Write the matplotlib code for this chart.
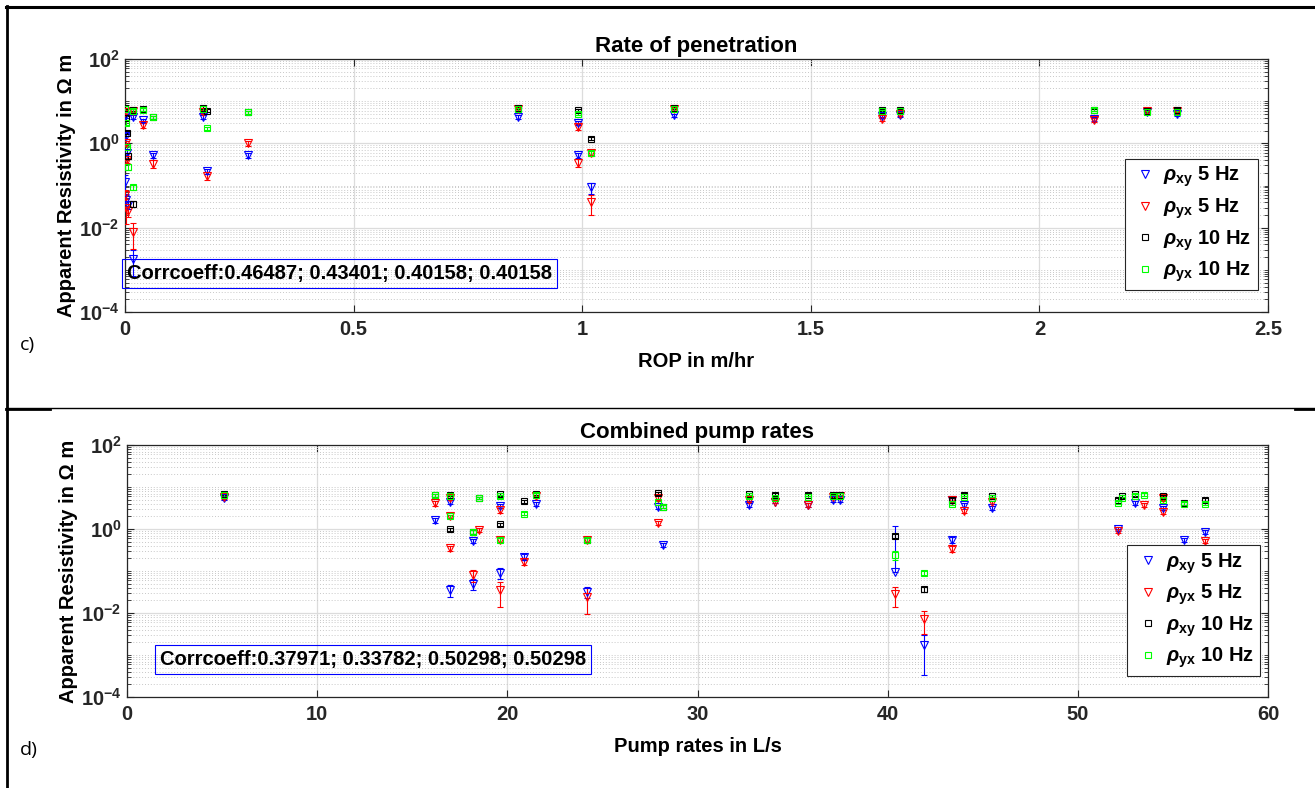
import matplotlib
matplotlib.use('Agg')
import matplotlib.pyplot as plt
import numpy as np
from matplotlib.lines import Line2D
from matplotlib.ticker import FixedLocator, FuncFormatter, NullFormatter

plt.rcParams['font.family'] = ['Liberation Sans', 'DejaVu Sans']
plt.rcParams['font.weight'] = 'bold'
plt.rcParams['mathtext.fontset'] = 'custom'
plt.rcParams['mathtext.rm'] = 'Liberation Sans:bold'
plt.rcParams['mathtext.it'] = 'Liberation Sans:italic'
plt.rcParams['mathtext.bf'] = 'Liberation Sans:bold'

# ---------------- data: panel c) rate of penetration ----------------
rop_xy5_x = [0.0, 0.002, 0.004, 0.0, 0.003, 0.006, 0.017, 0.017, 0.039, 0.061, 0.17, 0.18, 0.27,
             0.86, 0.99, 0.99, 1.02, 1.2, 1.655, 1.695, 2.12, 2.236, 2.30]
rop_xy5_y = [4.5, 1.5, 0.6, 0.12, 0.045, 0.035, 4.2, 0.0018, 3.5, 0.52, 4.2, 0.22, 0.52,
             4.2, 3.0, 0.52, 0.09, 4.6, 4.5, 4.8, 3.8, 5.5, 5.0]
rop_xy5_e = [0.1, 0.15, 0.15, 0.5, 0.4, 0.2, 0.1, 0.6, 0.1, 0.15, 0.1, 0.15, 0.15,
             0.1, 0.1, 0.15, 0.3, 0.1, 0.1, 0.1, 0.1, 0.1, 0.1]

rop_yx5_x = [0.0, 0.002, 0.004, 0.0, 0.003, 0.006, 0.017, 0.017, 0.039, 0.061, 0.17, 0.18, 0.27,
             0.86, 0.99, 0.99, 1.02, 1.02, 1.2, 1.655, 1.695, 2.12, 2.236, 2.30]
rop_yx5_y = [5.5, 1.0, 0.4, 0.06, 0.03, 0.025, 6.0, 0.008, 2.7, 0.33, 5.6, 0.17, 1.0,
             6.5, 2.5, 0.35, 0.6, 0.04, 6.5, 3.8, 5.0, 3.6, 6.0, 6.0]
rop_yx5_e = [0.1, 0.15, 0.15, 0.3, 0.6, 0.3, 0.1, 0.6, 0.15, 0.2, 0.1, 0.2, 0.15,
             0.1, 0.15, 0.2, 0.15, 0.5, 0.1, 0.1, 0.1, 0.1, 0.1, 0.1]

rop_xy10_x = [0.0, 0.002, 0.004, 0.006, 0.017, 0.017, 0.039, 0.061, 0.17, 0.18, 0.27,
              0.86, 0.99, 1.02, 1.2, 1.655, 1.695, 2.12, 2.236, 2.30]
rop_xy10_y = [7.0, 4.0, 1.8, 0.5, 6.2, 0.037, 6.5, 4.2, 7.0, 6.0, 5.5,
              7.0, 6.2, 1.3, 7.0, 6.2, 6.2, 6.2, 6.0, 6.3]
rop_xy10_e = [0.08, 0.1, 0.1, 0.15, 0.08, 0.15, 0.08, 0.08, 0.08, 0.08, 0.08,
              0.08, 0.08, 0.1, 0.08, 0.08, 0.08, 0.08, 0.08, 0.08]

rop_yx10_x = [0.0, 0.002, 0.004, 0.006, 0.017, 0.017, 0.039, 0.061, 0.17, 0.18, 0.27,
              0.86, 0.99, 1.02, 1.2, 1.655, 1.695, 2.12, 2.236, 2.30]
rop_yx10_y = [6.5, 3.0, 0.8, 0.28, 6.0, 0.09, 6.3, 4.2, 6.5, 2.3, 5.5,
              6.5, 5.0, 0.6, 6.5, 5.8, 5.8, 6.3, 5.5, 5.5]
rop_yx10_e = [0.08, 0.1, 0.1, 0.15, 0.08, 0.15, 0.08, 0.08, 0.08, 0.08, 0.08,
              0.08, 0.08, 0.1, 0.08, 0.08, 0.08, 0.08, 0.08, 0.08]

# ---------------- data: panel d) combined pump rates ----------------
pump_xy5_x = [5.1, 16.2, 17.0, 17.0, 18.2, 18.2, 19.6, 19.6, 20.9, 21.5, 24.2, 27.9, 28.2,
              32.7, 34.1, 35.8, 37.1, 37.5, 40.4, 41.9, 43.4, 43.4, 44.0, 45.5, 52.1, 53.0,
              54.5, 55.6, 56.7]
pump_xy5_y = [5.5, 1.6, 4.4, 0.035, 0.52, 0.05, 3.5, 0.09, 0.22, 4.0, 0.032, 3.4, 0.42,
              3.7, 4.5, 3.8, 5.0, 5.0, 0.095, 0.0017, 4.9, 0.55, 3.7, 3.2, 1.0, 4.2,
              3.2, 0.55, 0.85]
pump_xy5_e = [0.1, 0.12, 0.1, 0.3, 0.12, 0.3, 0.1, 0.3, 0.15, 0.1, 0.3, 0.1, 0.1,
              0.1, 0.1, 0.1, 0.1, 0.1, 11.6, 0.8, 0.1, 0.15, 0.1, 0.12, 0.12, 0.1,
              0.12, 0.1, 0.12]

pump_yx5_x = [5.1, 16.2, 17.0, 17.0, 17.0, 18.2, 18.5, 19.6, 19.6, 19.6, 20.9, 21.5, 24.2,
              24.2, 27.9, 27.9, 32.7, 34.1, 35.8, 37.1, 37.5, 40.4, 41.9, 43.4, 43.4, 44.0,
              45.5, 52.1, 53.5, 54.5, 54.5, 56.7]
pump_yx5_y = [5.8, 4.1, 5.5, 2.0, 0.35, 0.08, 0.95, 2.8, 0.55, 0.035, 0.165, 6.0, 0.55,
              0.024, 5.5, 1.4, 4.8, 4.5, 3.8, 5.8, 6.0, 0.028, 0.0072, 4.9, 0.34, 2.7,
              4.3, 0.9, 3.8, 5.5, 2.6, 0.52]
pump_yx5_e = [0.1, 0.12, 0.1, 0.1, 0.15, 0.3, 0.1, 0.12, 0.12, 0.6, 0.15, 0.1, 0.1,
              0.6, 0.1, 0.12, 0.1, 0.1, 0.1, 0.1, 0.1, 0.5, 0.55, 0.1, 0.15, 0.12,
              0.1, 0.12, 0.1, 0.1, 0.12, 0.1]

pump_xy10_x = [5.1, 16.2, 17.0, 17.0, 18.2, 18.5, 19.6, 19.6, 20.9, 21.5, 24.2, 27.9, 28.2,
               32.7, 34.1, 35.8, 37.1, 37.5, 40.4, 41.9, 43.4, 44.0, 45.5, 52.1, 52.3, 53.0,
               54.5, 55.6, 56.7]
pump_xy10_y = [7.0, 6.4, 6.6, 1.0, 0.85, 5.5, 6.8, 1.3, 4.6, 7.0, 0.55, 7.2, 3.4,
               6.8, 6.5, 6.5, 6.3, 6.5, 0.68, 0.037, 5.0, 6.5, 6.0, 5.0, 6.0, 6.8,
               6.0, 4.1, 5.0]
pump_xy10_e = [0.08, 0.08, 0.08, 0.08, 0.1, 0.08, 0.08, 0.08, 0.08, 0.08, 0.1, 0.08, 0.08,
               0.08, 0.08, 0.08, 0.08, 0.08, 0.1, 0.15, 0.08, 0.08, 0.08, 0.08, 0.08, 0.08,
               0.08, 0.08, 0.08]

pump_yx10_x = [5.1, 16.2, 17.0, 17.0, 18.2, 18.5, 19.6, 19.6, 20.9, 21.5, 24.2, 27.9, 28.2,
               32.7, 34.1, 35.8, 37.1, 37.5, 40.4, 41.9, 43.4, 44.0, 45.5, 52.1, 52.3, 53.0,
               53.5, 54.5, 55.6, 56.7]
pump_yx10_y = [6.4, 6.4, 6.0, 2.0, 0.85, 5.5, 6.0, 0.55, 2.3, 6.5, 0.55, 4.4, 3.4,
               6.0, 5.5, 5.8, 6.0, 6.0, 0.24, 0.09, 4.0, 5.8, 5.5, 4.2, 5.5, 6.2,
               6.5, 5.0, 4.0, 4.0]
pump_yx10_e = [0.08, 0.08, 0.08, 0.1, 0.1, 0.08, 0.08, 0.12, 0.08, 0.08, 0.12, 0.08, 0.08,
               0.08, 0.08, 0.08, 0.08, 0.08, 0.25, 0.12, 0.08, 0.08, 0.08, 0.08, 0.08, 0.08,
               0.08, 0.08, 0.08, 0.08]

labels = [r'$\rho_{\mathbf{xy}}$ 5 Hz', r'$\rho_{\mathbf{yx}}$ 5 Hz',
          r'$\rho_{\mathbf{xy}}$ 10 Hz', r'$\rho_{\mathbf{yx}}$ 10 Hz']
colors = ['#0000ff', '#ff0000', '#000000', '#00ff00']
markers = ['v', 'v', 's', 's']

rop_ticks = [0, 0.5, 1, 1.5, 2, 2.5]
rop_ticklabels = ['0', '0.5', '1', '1.5', '2', '2.5']
pump_ticks = [0, 10, 20, 30, 40, 50, 60]
pump_ticklabels = ['0', '10', '20', '30', '40', '50', '60']

corr_rop = 'Corrcoeff:0.46487; 0.43401; 0.40158; 0.40158'
corr_pump = 'Corrcoeff:0.37971; 0.33782; 0.50298; 0.50298'

W, H = 1315, 788
FS = 14.5
fig = plt.figure(figsize=(W / 100, H / 100), dpi=100)


def fr(px, py):
    return px / W, 1 - py / H


def axes_px(l, r, t, b):
    return fig.add_axes([l / W, 1 - b / H, (r - l) / W, (b - t) / H])


def yfmt(v, pos):
    k = int(round(np.log10(v)))
    return r'$\mathbf{10}^{\mathbf{%d}}$' % k


def draw(ax, series, xlim, ticks, ticklabels, title, xlabel, corr, corr_pos,
         leg_anchor):
    handles = []
    for (x, y, e), c, m, lab in zip(series, colors, markers, labels):
        x = np.asarray(x, float)
        y = np.asarray(y, float)
        e = np.asarray(e, float)
        hi = y * e
        lo = np.where(e < 1, y * e, 0.0)
        ax.errorbar(x, y, yerr=[lo, hi], fmt='none', ecolor=c, elinewidth=0.8,
                    capsize=2.5, capthick=0.8, zorder=3)
        ms = 5.5 if m == 'v' else 4.5
        h, = ax.plot(x, y, linestyle='none', marker=m, mfc='none', mec=c, ms=ms,
                     mew=0.8, label=lab, zorder=4)
        handles.append(h)
    ax.set_yscale('log')
    ax.set_ylim(1e-4, 1e2)
    ax.set_xlim(*xlim)
    ax.yaxis.set_major_locator(FixedLocator([1e-4, 1e-2, 1e0, 1e2]))
    minors = [m * 10.0 ** k for k in range(-4, 2) for m in range(1, 10)
              if not (m == 1 and k % 2 == 0)]
    ax.yaxis.set_minor_locator(FixedLocator(minors))
    ax.yaxis.set_major_formatter(FuncFormatter(yfmt))
    ax.yaxis.set_minor_formatter(NullFormatter())
    ax.set_xticks(ticks)
    ax.set_xticklabels(ticklabels)
    ax.grid(which='major', color='#dcdcdc', lw=0.9, ls='-')
    ax.grid(which='minor', axis='y', color='#c8c8c8', lw=0.7, ls=(0, (1, 2)))
    ax.set_axisbelow(True)
    ax.tick_params(which='both', direction='in', top=True, right=True,
                   labelsize=FS, colors='#262626')
    ax.tick_params(axis='x', pad=6)
    ax.tick_params(axis='y', pad=4)
    ax.tick_params(which='major', length=5, width=0.8)
    ax.tick_params(which='minor', length=3, width=0.6)
    for lb in ax.get_xticklabels():
        lb.set_fontweight('bold')
    for s in ax.spines.values():
        s.set_color('#262626')
        s.set_linewidth(0.9)
    ax.set_title(title, fontsize=16, fontweight='bold', pad=5)
    ax.set_xlabel(xlabel, fontsize=FS, fontweight='bold', labelpad=9)
    ax.set_ylabel('Apparent Resistivity in Ω m', fontsize=FS, fontweight='bold',
                  labelpad=2)
    ax.text(corr_pos[0], corr_pos[1], corr, transform=ax.transAxes, ha='left',
            va='center', fontsize=FS, fontweight='bold', zorder=6,
            bbox=dict(boxstyle='square,pad=0.25', fc='none', ec='#0000ff', lw=0.8))
    leg = ax.legend(handles=handles, loc='upper right', bbox_to_anchor=leg_anchor,
                    fontsize=FS, frameon=True, fancybox=False, edgecolor='#262626',
                    framealpha=1, borderpad=0.3, labelspacing=0.35,
                    handlelength=1.4, handletextpad=0.2, borderaxespad=0)
    leg.get_frame().set_linewidth(0.8)
    leg.set_zorder(7)


ax1 = axes_px(125, 1268, 59, 312)
draw(ax1, [(rop_xy5_x, rop_xy5_y, rop_xy5_e), (rop_yx5_x, rop_yx5_y, rop_yx5_e),
           (rop_xy10_x, rop_xy10_y, rop_xy10_e), (rop_yx10_x, rop_yx10_y, rop_yx10_e)],
     (0, 2.5), rop_ticks, rop_ticklabels, 'Rate of penetration', 'ROP in m/hr',
     corr_rop, (0.002, 0.154), (0.991, 0.605))

ax2 = axes_px(127, 1268, 445, 697)
draw(ax2, [(pump_xy5_x, pump_xy5_y, pump_xy5_e), (pump_yx5_x, pump_yx5_y, pump_yx5_e),
           (pump_xy10_x, pump_xy10_y, pump_xy10_e), (pump_yx10_x, pump_yx10_y, pump_yx10_e)],
     (0, 60), pump_ticks, pump_ticklabels, 'Combined pump rates', 'Pump rates in L/s',
     corr_pump, (0.029, 0.147), (0.993, 0.603))

# page frame (table borders) and panel letters
def hline(y, x0, x1, lw):
    (a, b), (c, d) = fr(x0, y), fr(x1, y)
    fig.add_artist(Line2D([a, c], [b, d], color='black', lw=lw, transform=fig.transFigure))


def vline(x, y0, y1, lw):
    (a, b), (c, d) = fr(x, y0), fr(x, y1)
    fig.add_artist(Line2D([a, c], [b, d], color='black', lw=lw, transform=fig.transFigure))


hline(7, 6, 1315, 2.2)
vline(7, 6, 788, 2.0)
hline(408, 6, 1315, 1.0)
hline(409, 6, 50, 2.0)
hline(409, 1295, 1315, 2.0)

fig.text(*fr(20, 345), 'c)', fontsize=14, fontweight='normal', family='Open Sans',
         va='center', ha='left')
fig.text(*fr(20, 750), 'd)', fontsize=14, fontweight='normal', family='Open Sans',
         va='center', ha='left')

fig.savefig('out.png', dpi=100)
